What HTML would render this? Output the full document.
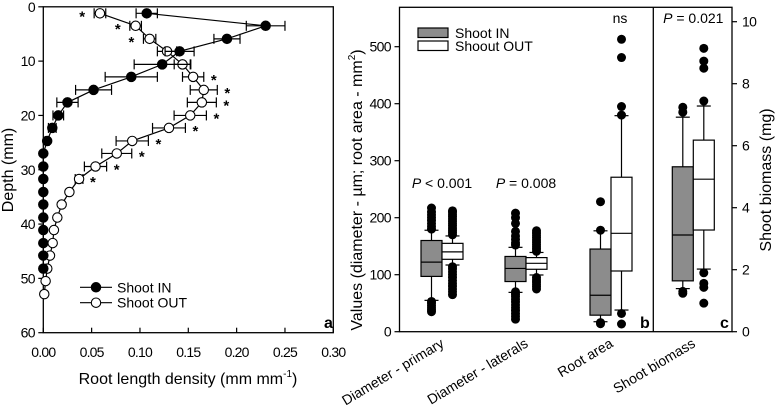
<!DOCTYPE html>
<html><head><meta charset="utf-8"><style>
html,body{margin:0;padding:0;background:#fff}
svg{display:block;font-family:"Liberation Sans",Arial,sans-serif}
</style></head><body>
<svg id="chart" width="777" height="405" viewBox="0 0 777 405" xmlns="http://www.w3.org/2000/svg">
<g id="pa"></g>
<g id="pb"></g>
</svg>
<script>
// ---- Panel a data ----
const depths = [1.2,3.5,5.9,8.2,10.6,12.9,15.3,17.6,20,22.3,24.7,27,29.4,31.7,34.1,36.4,38.8,41.1,43.5,45.8,48.2,50.5,52.9];
const inVals = [0.107,0.230,0.190,0.141,0.123,0.091,0.052,0.025,0.0155,0.0093,0.004,0,0,0,0,0,0,0,0,0,0];
const inErr  = [0.011,0.020,0.0135,0.015,0.029,0.027,0.0186,0.011,0.0055,0.004,0.002,0,0,0,0,0,0,0,0,0,0];
const outVals = [0.0586,0.0955,0.110,0.128,0.144,0.155,0.166,0.164,0.152,0.130,0.092,0.076,0.054,0.037,0.027,0.019,0.0145,0.011,0.0097,0.0069,0.0041,0.0024,0.001];
const outErr  = [0.006,0.006,0.0064,0.01,0.0086,0.011,0.014,0.015,0.0167,0.017,0.0167,0.0155,0.0115,0.004,0,0,0,0,0,0,0,0,0];
const starSide = [-1,-1,-1,0,0,1,1,1,1,1,1,1,1,1];
const xTicksA = ["0.00","0.05","0.10","0.15","0.20","0.25","0.30"];
const yTicksA = [0,10,20,30,40,50,60];

// ---- Panel b/c data ----
const groups = ["Diameter - primary","Diameter - laterals","Root area","Shoot biomass"];
// [whiskerLow, q1, median, q3, whiskerHigh]
const statsIn  = [[55,97,122,160,178],[69,88,111,132,148],[17.5,29,64,145,177],[1.39,1.64,3.12,5.32,6.92]];
const statsOut = [[117,127,140,155,168],[99.5,109.5,120,130,139],[38,106.5,172.6,271,379],[2.02,3.28,4.92,6.18,7.28]];
const outliersIn = [
 [180,185,190,195,200,205,210,217,35,38,42,46,50,53],
 [152,156,162,168,176,190,200,208,22,27,32,37,42,47,52,57,62,66,70],
 [228,178,16,14],
 [7.24,7.08,1.24,1.3]
];
const outliersOut = [
 [170,174,178,182,186,190,194,198,202,206,210,212,65,70,75,80,85,90,95,100,105,110,114],
 [141,145,149,153,157,161,165,169,173,177,75,79,83,87,91,95],
 [513,481,395,380,32,13.5],
 [9.14,8.73,8.5,7.44,1.9,1.56,1.43,0.92]
];
const pLabels = ["< 0.001","= 0.008","","= 0.021"];
const yTicksB = [0,100,200,300,400,500];
const yTicksC = [0,2,4,6,8,10];

const NS="http://www.w3.org/2000/svg";
function mk(tag, attrs, parent, text){
  const e=document.createElementNS(NS,tag);
  for(const k in attrs) e.setAttribute(k,attrs[k]);
  if(text!==undefined) e.textContent=text;
  parent.appendChild(e); return e;
}
const pa=document.getElementById('pa');
const pb=document.getElementById('pb');

// ---- Panel a scales ----
const ax0=43.3, ax1=333.3, ay0=6.8, ay1=332.7;
const xA = v => ax0 + v/0.3*(ax1-ax0);
const yA = d => ay0 + d/60*(ay1-ay0);

let fr=mk('rect',{x:ax0,y:ay0,width:ax1-ax0,height:ay1-ay0,fill:'none',stroke:'#000','stroke-width':1.3},pa);
 
xTicksA.forEach((t,i)=>{
  const x=xA(i*0.05);
  mk('line',{x1:x,x2:x,y1:ay1,y2:ay1-5,stroke:'#000','stroke-width':1.2},pa);
  const tx=mk('text',{x:x,y:357,'text-anchor':'middle','font-size':14,'letter-spacing':'-0.8'},pa,t);
   
});
yTicksA.forEach(t=>{
  const y=yA(t);
  mk('line',{x1:ax0,x2:ax0-5,y1:y,y2:y,stroke:'#000','stroke-width':1.2},pa);
  const tx=mk('text',{x:35,y:y+5,'text-anchor':'end','font-size':14,'letter-spacing':'-0.6'},pa,String(t));
   
});
let xt=mk('text',{x:188,y:384,'text-anchor':'middle','font-size':16},pa);
 
xt.innerHTML='Root length density (mm mm<tspan dy="-7" font-size="10">-1</tspan><tspan dy="7">)</tspan>';
let yt=mk('text',{x:0,y:0,'text-anchor':'middle','font-size':16,transform:'translate(13,170) rotate(-90)'},pa,'Depth (mm)');
 

function series(vals, errs, fill, name){
  const g=mk('g',{},pa);
   
  let d=''; vals.forEach((v,i)=>{d+=(i?'L':'M')+xA(v)+' '+yA(depths[i]);});
  mk('path',{d:d,fill:'none',stroke:'#000','stroke-width':1.2},g);
  vals.forEach((v,i)=>{
    const e=errs[i], y=yA(depths[i]);
    if(e>0){
      mk('line',{x1:xA(v-e),x2:xA(v+e),y1:y,y2:y,stroke:'#000','stroke-width':1.2},g);
      mk('line',{x1:xA(v-e),x2:xA(v-e),y1:y-5,y2:y+5,stroke:'#000','stroke-width':1.2},g);
      mk('line',{x1:xA(v+e),x2:xA(v+e),y1:y-5,y2:y+5,stroke:'#000','stroke-width':1.2},g);
    }
  });
  vals.forEach((v,i)=>{
    const c=mk('circle',{cx:xA(v),cy:yA(depths[i]),r:4.7,fill:fill,stroke:'#000','stroke-width':1.1},g);
     
  });
}
series(outVals,outErr,'#fff','series-shoot-out');
series(inVals,inErr,'#000','series-shoot-in');
starSide.forEach((s,i)=>{
  if(!s) return;
  const x = s>0 ? xA(outVals[i]+outErr[i])+10 : xA(outVals[i]-outErr[i])-12;
  const st=mk('text',{x:x,y:yA(depths[i])+8,'text-anchor':'middle','font-size':15,'font-weight':'bold'},pa,'*');
   
});
// legend a
[['Shoot IN','#000',287.3],['Shoot OUT','#fff',302.7]].forEach(l=>{
  const g=mk('g',{},pa);
   
  mk('line',{x1:80,x2:112,y1:l[2],y2:l[2],stroke:'#000','stroke-width':1.2},g);
  mk('circle',{cx:96,cy:l[2],r:4.7,fill:l[1],stroke:'#000','stroke-width':1.1},g);
  mk('text',{x:117,y:l[2]+5,'font-size':14},g,l[0]);
});
let la=mk('text',{x:324,y:328,'font-size':16,'font-weight':'bold'},pa,'a');
 

// ---- Panel b/c scales ----
const bx0=399.5, bdiv=653.3, bx1=732, by0=7.3, by1=331.7;
const yB = v => by1 - v*0.57;
const yC = v => by1 - v*(by1-21.7)/10;
const centers=[442,526,611,693.3];
const bw=21;

let fb=mk('rect',{x:bx0,y:by0,width:bx1-bx0,height:by1-by0,fill:'none',stroke:'#000','stroke-width':1.3},pb);
 
let dv=mk('line',{x1:bdiv,x2:bdiv,y1:by0,y2:by1,stroke:'#000','stroke-width':1.3},pb);
 
yTicksB.forEach(t=>{
  const y=yB(t);
  mk('line',{x1:bx0,x2:bx0-5,y1:y,y2:y,stroke:'#000','stroke-width':1.2},pb);
  const tx=mk('text',{x:391,y:y+5,'text-anchor':'end','font-size':14,'letter-spacing':'-0.6'},pb,String(t));
   
});
yTicksC.forEach(t=>{
  const y=yC(t);
  mk('line',{x1:bx1,x2:bx1+5,y1:y,y2:y,stroke:'#000','stroke-width':1.2},pb);
  const tx=mk('text',{x:742,y:y+5,'font-size':14,'letter-spacing':'-0.6'},pb,String(t));
   
});
let ytb=mk('text',{x:0,y:0,'text-anchor':'middle','font-size':16,transform:'translate(362,190) rotate(-90)'},pb);
 
ytb.innerHTML='Values (diameter - µm; root area - mm<tspan dy="-7" font-size="10">2</tspan><tspan dy="7">)</tspan>';
let ytc=mk('text',{x:0,y:0,'text-anchor':'middle','font-size':16,transform:'translate(771,180) rotate(-90)'},pb,'Shoot biomass (mg)');
 

function box(st, outs, cx, fill, sc, name){
  const g=mk('g',{},pb);
   
  const x0=cx-bw/2, x1=cx+bw/2;
  mk('line',{x1:cx,x2:cx,y1:sc(st[0]),y2:sc(st[4]),stroke:'#000','stroke-width':1.2},g);
  [st[0],st[4]].forEach(v=>mk('line',{x1:cx-7,x2:cx+7,y1:sc(v),y2:sc(v),stroke:'#000','stroke-width':1.2},g));
  mk('rect',{x:x0,y:sc(st[3]),width:bw,height:sc(st[1])-sc(st[3]),fill:fill,stroke:'#000','stroke-width':1.2},g);
  mk('line',{x1:x0,x2:x1,y1:sc(st[2]),y2:sc(st[2]),stroke:'#000','stroke-width':1.2},g);
  outs.forEach(v=>{
    const c=mk('circle',{cx:cx,cy:sc(v),r:4.5,fill:'#000'},g);
     
  });
}
groups.forEach((gname,i)=>{
  const sc = i===3 ? yC : yB;
  box(statsIn[i],outliersIn[i],centers[i]-bw/2,'#8c8c8c',sc,'box-in-'+i);
  box(statsOut[i],outliersOut[i],centers[i]+bw/2,'#fff',sc,'box-out-'+i);
  const tx=mk('text',{x:0,y:0,'text-anchor':'end','font-size':14,transform:`translate(${centers[i]+3},346) rotate(-31)`},pb,gname);
   
  if(pLabels[i]){
    const py = i===3 ? 23 : 188;
    const p=mk('text',{x:centers[i],y:py,'text-anchor':'middle','font-size':14},pb);
     
    p.innerHTML='<tspan font-style="italic">P</tspan> '+pLabels[i].replace('<','&lt;');
  }
});
let ns=mk('text',{x:620,y:23,'text-anchor':'middle','font-size':14},pb,'ns');
 
[['Shoot IN','#8c8c8c',28],['Shoout OUT','#fff',41]].forEach(l=>{
  const g=mk('g',{},pb);
   
  mk('rect',{x:418,y:l[2],width:30,height:9.5,fill:l[1],stroke:'#000','stroke-width':1.2},g);
  mk('text',{x:455,y:l[2]+10,'font-size':14},g,l[0]);
});
let lb=mk('text',{x:640,y:328,'font-size':16,'font-weight':'bold'},pb,'b');
 
let lc=mk('text',{x:720,y:328,'font-size':16,'font-weight':'bold'},pb,'c');
 
</script>
</body></html>
